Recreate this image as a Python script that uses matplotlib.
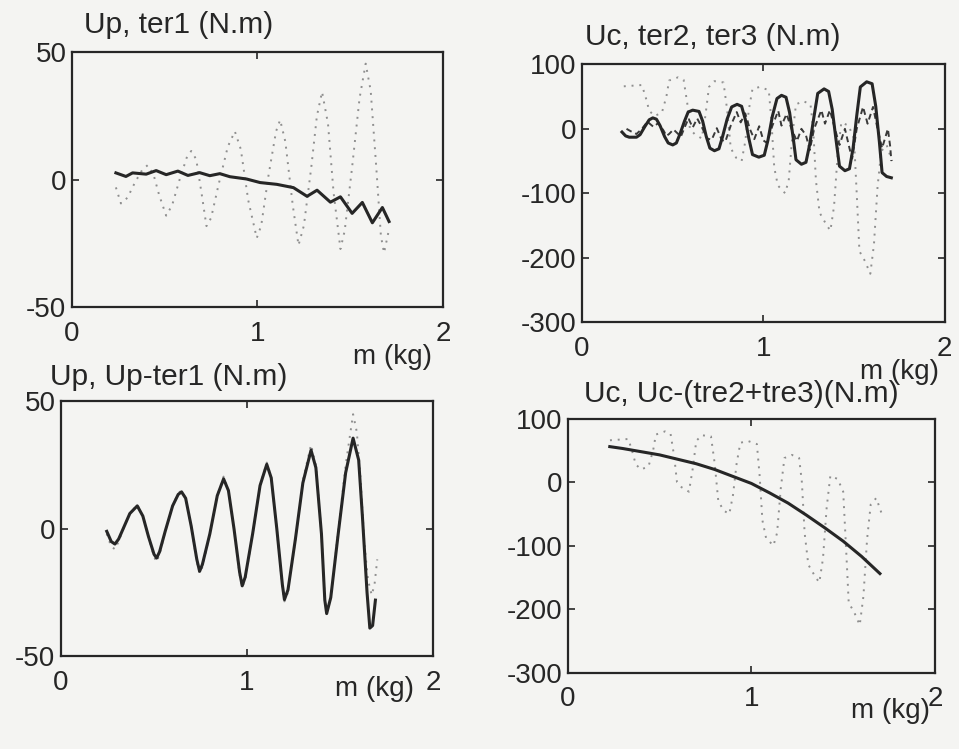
import matplotlib
matplotlib.use("Agg")

import matplotlib.pyplot as plt

plt.rcParams["font.family"] = ["Liberation Sans", "DejaVu Sans"]
plt.rcParams["axes.unicode_minus"] = False

# ------------------------------------------------------------
# values
# ------------------------------------------------------------
x_ticks = [0, 1, 2]
x_tick_labels = ["0", "1", "2"]
up_yticks = [-50, 0, 50]
uc_yticks = [-300, -200, -100, 0, 100]

# Up (dotted, panel 1)
m_up = [0.237, 0.264, 0.30, 0.34, 0.38, 0.408, 0.44, 0.47, 0.508, 0.54, 0.58, 0.62,
        0.643, 0.67, 0.70, 0.725, 0.75, 0.79, 0.84, 0.878, 0.91, 0.95, 0.996, 1.02,
        1.06, 1.10, 1.122, 1.15, 1.19, 1.221, 1.25, 1.29, 1.32, 1.348, 1.38, 1.41,
        1.447, 1.47, 1.51, 1.55, 1.583, 1.61, 1.64, 1.665, 1.682, 1.709]
up = [-3, -9.3, -7, -1, 4, 5.7, 2, -6, -14.1, -10, 0, 9,
      11.3, 8, -6, -18.2, -15, -2, 13, 19, 12, -8, -22.9, -18,
      2, 19, 23.5, 15, -10, -25.7, -18, 5, 25, 34.5, 22, -5,
      -27.2, -20, 5, 32, 45.6, 35, 5, -22, -28.7, -19.4]

# Up (dotted, panel 3: mostly hidden under the solid curve)
m_up3 = [0.246, 0.27, 0.29, 0.31, 0.34, 0.37, 0.41, 0.44, 0.47, 0.50, 0.514,
         0.53, 0.56, 0.60, 0.63, 0.648, 0.67, 0.70, 0.73, 0.745, 0.76, 0.80,
         0.84, 0.874, 0.90, 0.93, 0.96, 0.974, 0.99, 1.03, 1.07, 1.106, 1.13,
         1.16, 1.19, 1.201, 1.22, 1.26, 1.30, 1.344, 1.37, 1.40, 1.418, 1.428,
         1.45, 1.49, 1.53, 1.57, 1.59, 1.61, 1.63, 1.65, 1.67, 1.685, 1.70]
up3 = [-2, -7, -8, -5, 1, 6, 9.5, 5, -3, -11, -13,
       -10, -1, 9, 14, 15, 12, 1, -13, -17.5, -15, -2,
       13, 20.5, 15, 0, -18, -23, -20, -2, 17, 26, 20,
       0, -23, -28.5, -25, -4, 19, 33, 25, -2, -28, -33,
       -27, -1, 25, 45, 38, 20, -5, -20, -26, -22, -12]

# ter1 (solid, panel 1)
m_ter1 = [0.237, 0.291, 0.327, 0.40, 0.454, 0.508, 0.571, 0.625, 0.688, 0.743,
          0.797, 0.851, 0.941, 1.014, 1.104, 1.194, 1.267, 1.321, 1.393, 1.447,
          1.51, 1.565, 1.619, 1.673, 1.709]
ter1 = [2.7, 1.3, 2.7, 2.2, 3.6, 2.0, 3.4, 1.7, 2.8, 1.6,
        2.4, 1.2, 0.3, -1.1, -1.8, -3.1, -6.5, -4.1, -8.8, -6.7,
        -13.2, -8.9, -16.9, -10.9, -16.4]

# Up - ter1 (solid, panel 3)
m_up_ter1 = [0.246, 0.27, 0.29, 0.31, 0.34, 0.37, 0.41, 0.44, 0.47, 0.50, 0.514,
             0.53, 0.56, 0.60, 0.63, 0.648, 0.67, 0.70, 0.73, 0.745, 0.76, 0.80,
             0.84, 0.874, 0.90, 0.93, 0.96, 0.974, 0.99, 1.03, 1.07, 1.106, 1.13,
             1.16, 1.19, 1.201, 1.22, 1.26, 1.30, 1.344, 1.37, 1.40, 1.418, 1.428,
             1.45, 1.49, 1.53, 1.57, 1.60, 1.62, 1.645, 1.66, 1.675, 1.69]
up_ter1 = [-1, -5, -6, -4, 1, 6, 9, 5, -3, -10, -11.5,
           -9, -1, 9, 13.5, 14.5, 12, 1, -12, -16.7, -14, -2,
           13, 19.6, 15, 0, -17, -22.4, -19, -2, 17, 25.3, 20,
           0, -22, -27.8, -24, -4, 18, 30.9, 24, -2, -28, -33.3,
           -27, -2, 22, 35.6, 27, 5, -25, -39, -38, -28]

# Uc (dotted, panels 2 and 4)
m_uc = [0.23, 0.33, 0.355, 0.37, 0.40, 0.44, 0.465, 0.48, 0.53, 0.56, 0.58, 0.595,
        0.62, 0.66, 0.68, 0.70, 0.73, 0.78, 0.80, 0.82, 0.85, 0.88, 0.90, 0.92,
        0.94, 0.98, 1.03, 1.045, 1.06, 1.08, 1.12, 1.14, 1.16, 1.18, 1.22, 1.26,
        1.275, 1.29, 1.31, 1.35, 1.37, 1.39, 1.41, 1.43, 1.47, 1.50, 1.515, 1.53,
        1.56, 1.59, 1.61, 1.63, 1.65, 1.68, 1.71]
uc = [66, 68, 45, 28, 20, 25, 50, 75, 80, 76, 40, 0,
      -8, -15, 20, 65, 74, 72, 30, -30, -45, -50, -20, 30,
      62, 65, 60, 10, -60, -88, -100, -80, -10, 38, 43, 38,
      0, -80, -130, -150, -158, -120, -40, 10, 5, -15, -100, -190,
      -205, -225, -180, -90, -35, -25, -50]

# ter2 (solid, panel 2)
m_ter2 = [0.22, 0.24, 0.26, 0.30, 0.32, 0.345, 0.37, 0.39, 0.41, 0.43, 0.455,
          0.475, 0.50, 0.52, 0.54, 0.565, 0.585, 0.61, 0.645, 0.665, 0.685,
          0.705, 0.73, 0.755, 0.775, 0.80, 0.825, 0.855, 0.88, 0.90, 0.92,
          0.94, 0.975, 1.005, 1.025, 1.05, 1.075, 1.10, 1.125, 1.145, 1.165,
          1.18, 1.21, 1.235, 1.255, 1.28, 1.30, 1.335, 1.36, 1.38, 1.40,
          1.42, 1.45, 1.475, 1.495, 1.515, 1.535, 1.57, 1.60, 1.62, 1.64,
          1.655, 1.68, 1.706]
ter2 = [-5, -11, -13, -13, -9, 3, 14, 17, 15, 5, -12,
        -22, -25, -22, -8, 12, 26, 29, 27, 12, -12,
        -30, -34, -31, -12, 15, 34, 38, 35, 15, -15,
        -40, -44, -41, -18, 20, 47, 52, 49, 25, -15,
        -48, -55, -52, -25, 20, 55, 62, 58, 30, -15,
        -58, -65, -62, -30, 20, 65, 73, 70, 35, -20,
        -68, -74, -76]

# ter3 (dashed, panel 2)
m_ter3 = [0.245, 0.27, 0.30, 0.33, 0.36, 0.394, 0.42, 0.45, 0.465, 0.48, 0.504,
          0.53, 0.545, 0.565, 0.587, 0.61, 0.635, 0.66, 0.69, 0.715, 0.743,
          0.77, 0.79, 0.82, 0.853, 0.875, 0.90, 0.925, 0.95, 0.977, 1.00,
          1.02, 1.05, 1.082, 1.10, 1.128, 1.155, 1.185, 1.21, 1.235, 1.256,
          1.28, 1.32, 1.34, 1.367, 1.395, 1.42, 1.45, 1.475, 1.49, 1.515,
          1.55, 1.575, 1.605, 1.63, 1.655, 1.687, 1.70, 1.706]
ter3 = [0, -4, -8, 0, 11, 3, 9, -3, -11, -8, -1,
        -8, -12, 2, 16, 2, 16, 3, -15, -17, 1,
        -17, -20, 5, 26, 10, 24, 0, -16, 4, -18,
        -22, 5, 28, 5, 23, 0, -19, 0, -10, -33,
        0, 29, 8, 29, 0, -25, 0, -30, -46, 0,
        34, 8, 34, 0, -30, 0, -28, -50]

# Uc - (ter2 + ter3) (solid, panel 4)
m_uc_res = [0.229, 0.30, 0.40, 0.50, 0.60, 0.70, 0.80, 0.90, 1.00, 1.10,
            1.20, 1.30, 1.40, 1.50, 1.60, 1.70]
uc_res = [56, 53, 48, 43, 36, 29, 20, 9, -2, -17,
          -33, -52, -72, -93, -117, -144]

INK = "#262626"
DOT = "#8f8f8f"
BG = "#f4f4f2"


def style_axes(ax, yticks):
    ax.set_facecolor(BG)
    ax.set_xlim(0, 2)
    ax.set_ylim(yticks[0], yticks[-1])
    ax.set_xticks(x_ticks)
    ax.set_xticklabels(x_tick_labels)
    ax.set_yticks(yticks)
    ax.tick_params(direction="in", top=True, right=True, length=5, width=1.2,
                   labelsize=20, colors=INK)
    ax.tick_params(axis="x", pad=10)
    ax.tick_params(axis="y", pad=4)
    for sp in ax.spines.values():
        sp.set_linewidth(1.6)
        sp.set_color(INK)


def add_title(ax, text, dx, dy):
    ax.annotate(text, xy=(0, 1), xycoords="axes fraction", xytext=(dx, dy),
                textcoords="offset points", ha="left", va="baseline",
                fontsize=21.5, color=INK)


def add_xlabel(ax, xfrac, dy):
    ax.annotate("m (kg)", xy=(xfrac, 0), xycoords="axes fraction",
                xytext=(0, -dy), textcoords="offset points", ha="right",
                va="center", fontsize=20, color=INK)


fig = plt.figure(figsize=(9.59, 7.49), dpi=100, facecolor=BG)

ax1 = fig.add_axes([0.075, 0.590, 0.387, 0.340])
ax2 = fig.add_axes([0.607, 0.570, 0.378, 0.344])
ax3 = fig.add_axes([0.0636, 0.124, 0.388, 0.340])
ax4 = fig.add_axes([0.592, 0.102, 0.383, 0.339])

dotted = dict(color=DOT, linewidth=1.4, linestyle=(0, (1, 3)))
solid = dict(color=INK, linewidth=2.2)

# panel 1: Up, ter1
ax1.plot(m_up, up, **dotted)
ax1.plot(m_ter1, ter1, **solid)
style_axes(ax1, up_yticks)
add_title(ax1, "Up, ter1 (N.m)", 8.6, 13.7)
add_xlabel(ax1, 0.97, 36)

# panel 2: Uc, ter2, ter3
ax2.plot(m_uc, uc, **dotted)
ax2.plot(m_ter3, ter3, color="#3a3a3a", linewidth=1.4, linestyle=(0, (3, 2)))
ax2.plot(m_ter2, ter2, **solid)
style_axes(ax2, uc_yticks)
add_title(ax2, "Uc, ter2, ter3 (N.m)", 2, 13.7)
add_xlabel(ax2, 0.985, 36)

# panel 3: Up, Up-ter1
ax3.plot(m_up3, up3, **dotted)
ax3.plot(m_up_ter1, up_ter1, **solid)
style_axes(ax3, up_yticks)
add_title(ax3, "Up, Up-ter1 (N.m)", -8, 12)
add_xlabel(ax3, 0.95, 24)

# panel 4: Uc, Uc-(tre2+tre3)
ax4.plot(m_uc, uc, **dotted)
ax4.plot(m_uc_res, uc_res, **solid)
style_axes(ax4, uc_yticks)
add_title(ax4, "Uc, Uc-(tre2+tre3)(N.m)", 11.5, 12)
add_xlabel(ax4, 0.985, 28)

fig.savefig("out.png", dpi=100, facecolor=BG)
